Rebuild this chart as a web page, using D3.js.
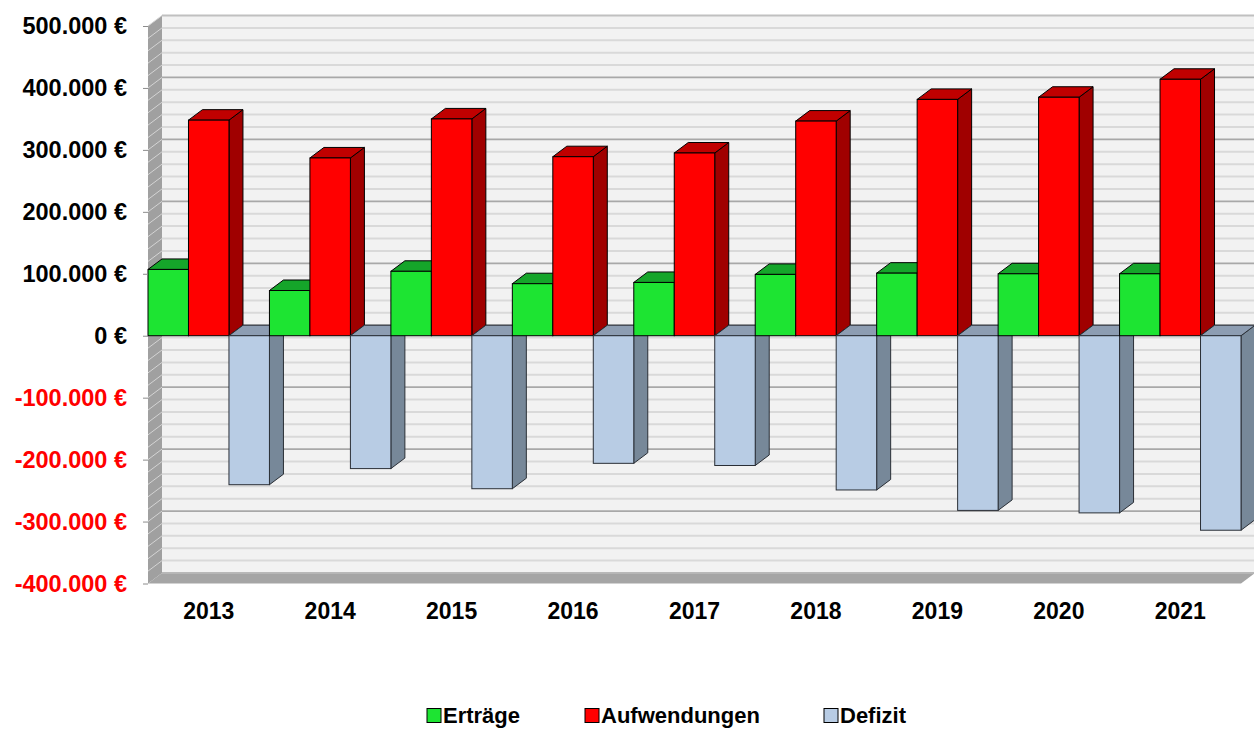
<!DOCTYPE html>
<html>
<head>
<meta charset="utf-8">
<script src="https://cdn.jsdelivr.net/npm/d3@7"></script>
<style>
  html, body { margin: 0; padding: 0; background: #fff; }
  svg { display: block; }
  text { font-family: "Liberation Sans", Arial, sans-serif; font-weight: bold; }
</style>
</head>
<body>
<svg id="chart" width="1254" height="729"></svg>
<script>
// ---- data ----
const years = ["2013", "2014", "2015", "2016", "2017", "2018", "2019", "2020", "2021"];
const seriesNames = ["Erträge", "Aufwendungen", "Defizit"];
const ertraege     = [107000, 73000, 104000, 84000, 86000, 99000, 101000, 100000, 100000];
const aufwendungen = [348000, 287000, 350000, 289000, 295000, 346500, 381500, 385000, 414000];
const defizit      = [-240500, -214500, -247000, -206000, -209500, -249000, -282000, -286000, -314000];
const yTicks = [-400000, -300000, -200000, -100000, 0, 100000, 200000, 300000, 400000, 500000];
const yMinor = d3.range(-400000, 500001, 20000);

// ---- styles ----
const colors = {
  "Erträge":      { front: "#1de432", top: "#15a52a", side: "#118a22", stroke: "#000" },
  "Aufwendungen": { front: "#ff0000", top: "#c00000", side: "#a00000", stroke: "#000" },
  "Defizit":      { front: "#b8cce4", top: "#8d9db2", side: "#778899", stroke: "#2a2f36" }
};
const values = { "Erträge": ertraege, "Aufwendungen": aufwendungen, "Defizit": defizit };

const svg = d3.select("#chart");
const DX = 14, DY = -10.5;

const y = d3.scaleLinear().domain([-400000, 500000]).range([583.5, 26]);
const x0 = d3.scaleBand().domain(years).range([148, 1241]).paddingInner(0).paddingOuter(0);
const x1 = d3.scaleBand().domain(seriesNames).range([0, x0.bandwidth()]).padding(0);

const left = x0.range()[0], right = x0.range()[1];
const yTop = y(500000), yBot = y(-400000);

// ---- back wall ----
svg.append("rect")
  .attr("x", left + DX).attr("y", yTop + DY)
  .attr("width", 1300 - left - DX).attr("height", yBot - yTop)
  .attr("fill", "#f2f2f2");

// gridlines on back wall
svg.append("g").selectAll("line").data(yMinor).join("line")
  .attr("x1", left + DX).attr("x2", 1260)
  .attr("y1", d => y(d) + DY).attr("y2", d => y(d) + DY)
  .attr("stroke", d => d === 500000 ? "#c0c0c0" : (d % 100000 === 0 ? "#a8a8a8" : "#d9d9d9"))
  .attr("stroke-width", d => d % 100000 === 0 ? 1.8 : 2);

// ---- side wall ----
svg.append("polygon")
  .attr("points", [[left, yTop], [left + DX, yTop + DY], [left + DX, yBot + DY], [left, yBot]].join(" "))
  .attr("fill", "#a0a0a0");
svg.append("g").selectAll("line").data(yMinor.filter(d => d > -400000)).join("line")
  .attr("x1", left).attr("x2", left + DX)
  .attr("y1", d => y(d)).attr("y2", d => y(d) + DY)
  .attr("stroke", "#d4d4d4").attr("stroke-width", 1);

// ---- floor ----
svg.append("polygon")
  .attr("points", [[left, yBot], [right, yBot], [right + DX, yBot + DY], [left + DX, yBot + DY]].join(" "))
  .attr("fill", "#a5a5a5");
svg.append("line")
  .attr("x1", left + DX).attr("x2", 1260).attr("y1", yBot + DY).attr("y2", yBot + DY)
  .attr("stroke", "#c8c8c8").attr("stroke-width", 1);

// ---- bars (painter's order, left to right) ----
const barsG = svg.append("g");
const y0 = y(0);
const barData = [];
years.forEach((yr, i) => {
  seriesNames.forEach(s => barData.push({ year: yr, series: s, value: values[s][i] }));
});
barData.forEach(d => {
  const c = colors[d.series];
  const bx = x0(d.year) + x1(d.series);
  const bw = x1.bandwidth();
  const yv = y(d.value);
  const top = Math.min(yv, y0), bot = Math.max(yv, y0);
  const g = barsG.append("g");
  g.append("polygon")
    .attr("points", [[bx + bw, top], [bx + bw + DX, top + DY], [bx + bw + DX, bot + DY], [bx + bw, bot]].join(" "))
    .attr("fill", c.side).attr("stroke", c.stroke).attr("stroke-width", 1).attr("stroke-linejoin", "round");
  g.append("polygon")
    .attr("points", [[bx, top], [bx + bw, top], [bx + bw + DX, top + DY], [bx + DX, top + DY]].join(" "))
    .attr("fill", c.top).attr("stroke", c.stroke).attr("stroke-width", 1).attr("stroke-linejoin", "round");
  g.append("rect")
    .attr("x", bx).attr("y", top).attr("width", bw).attr("height", bot - top)
    .attr("fill", c.front).attr("stroke", c.stroke).attr("stroke-width", 1);
});

// ---- y axis ----
const locale = d3.formatLocale({ decimal: ",", thousands: ".", grouping: [3], currency: ["", " €"], minus: "-" });
const fmt = locale.format("$,.0f");
const yAxis = d3.axisLeft(y).tickValues(yTicks).tickSize(5).tickPadding(16).tickFormat(fmt);
const yg = svg.append("g").attr("transform", `translate(${left},0)`).call(yAxis);
yg.select(".domain").remove();
yg.selectAll(".tick line").attr("stroke", "#8c8c8c");
yg.selectAll(".tick text")
  .attr("fill", d => d < 0 ? "#ff0000" : "#000")
  .style("font-size", "23.5px")
  .style("font-family", "'Liberation Sans', Arial, sans-serif")
  .style("font-weight", "bold");

// ---- x labels ----
const xAxis = d3.axisBottom(x0).tickSize(0).tickPadding(0);
const xg = svg.append("g").attr("transform", `translate(0,${yBot + 19})`).call(xAxis);
xg.select(".domain").remove();
xg.selectAll(".tick text")
  .attr("fill", "#000")
  .style("font-size", "23px")
  .style("font-family", "'Liberation Sans', Arial, sans-serif")
  .style("font-weight", "bold");

// ---- legend ----
const legendX = [427, 585, 824];
const lg = svg.append("g");
seriesNames.forEach((s, i) => {
  lg.append("rect").attr("x", legendX[i]).attr("y", 708.5).attr("width", 14).attr("height", 14)
    .attr("fill", colors[s].front).attr("stroke", "#000").attr("stroke-width", 1);
  lg.append("text").attr("x", legendX[i] + 16).attr("y", 723)
    .attr("fill", "#000").style("font-size", "22px").text(s);
});
</script>
</body>
</html>
